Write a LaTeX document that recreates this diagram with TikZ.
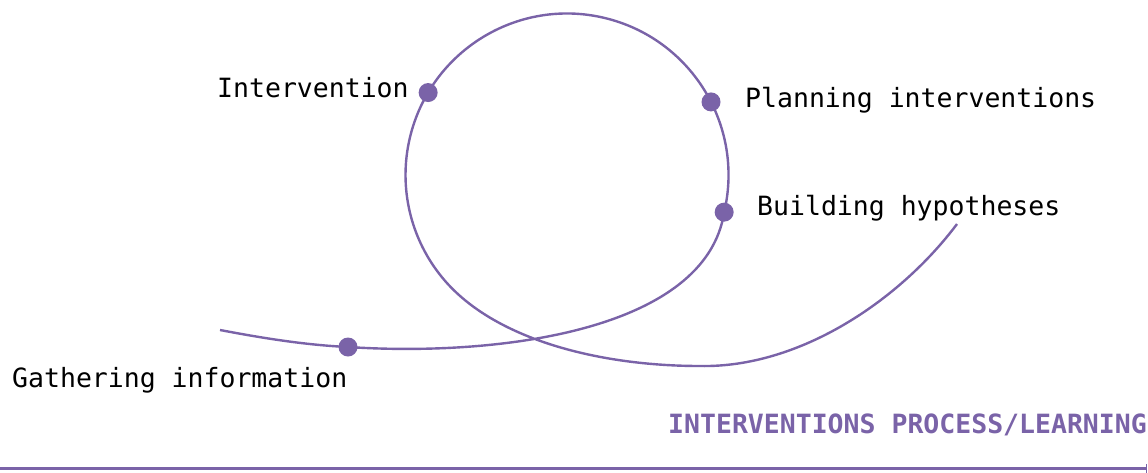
\documentclass[tikz,border=0pt]{standalone}
\usepackage{fontspec}
\setmonofont{DejaVu Sans Mono}
\usetikzlibrary{positioning}
\definecolor{lilac}{RGB}{122,99,168}
\tikzstyle{stage} = [circle,fill=lilac,inner sep=0pt,minimum size=19pt]
\tikzstyle{lbl} = [anchor=base west,inner sep=0pt,font=\ttfamily\fontsize{26.5}{30}\selectfont]
\tikzstyle{loop} = [draw=lilac,line width=2.4pt]

\begin{document}
\begin{tikzpicture}[x=1pt,y=-1pt]
 \useasboundingbox (0,0) rectangle (1148,472);

    % Stages on the loop
    \coordinate (hub) at (567,175);
    \node[stage] (gather) at (348,347) {};
    \node[stage] (build) at ([shift={(13.3:161.5)}]hub) {};
    \node[stage] (plan) at ([shift={(-26.9:161.5)}]hub) {};
    \node[stage] (interv) at ([shift={(-149.3:161.5)}]hub) {};
    \coordinate (start) at (220,330);
    \coordinate (bottom) at (700,366);
    \coordinate (finish) at (957,224);

    % Draw the loop
    \draw[loop] (start) .. controls (262,338) and (305,345) .. (gather.center)
        .. controls (500,357) and (706,330) .. (build.center)
        arc[start angle=13.3, end angle=-220, radius=161.5]
        .. controls +(51,61) and (600,366) .. (bottom)
        .. controls (800,368) and (900,300) .. (finish);

    \node[lbl] (gatherlbl) at (12,387) {Gathering information};
    \node[lbl] (intervlbl) at (217,97) {Intervention};
    \node[lbl] (planlbl) at (745,107) {Planning interventions};
    \node[lbl] (buildlbl) at (757,215) {Building hypotheses};

    % Title and rule
    \node[lbl,font=\ttfamily\bfseries\fontsize{26.5}{30}\selectfont,text=lilac] (title) at (668,433) {INTERVENTIONS PROCESS/LEARNING};
    \coordinate (rulestart) at (0,468);
    \coordinate (ruleend) at (1146.5,468);
    \draw[lilac,line width=3pt] (rulestart) -- (ruleend);
    \draw[lilac,line width=1pt] ([yshift=-5pt]ruleend) -- ([yshift=4pt]ruleend);

\end{tikzpicture}
\end{document}
